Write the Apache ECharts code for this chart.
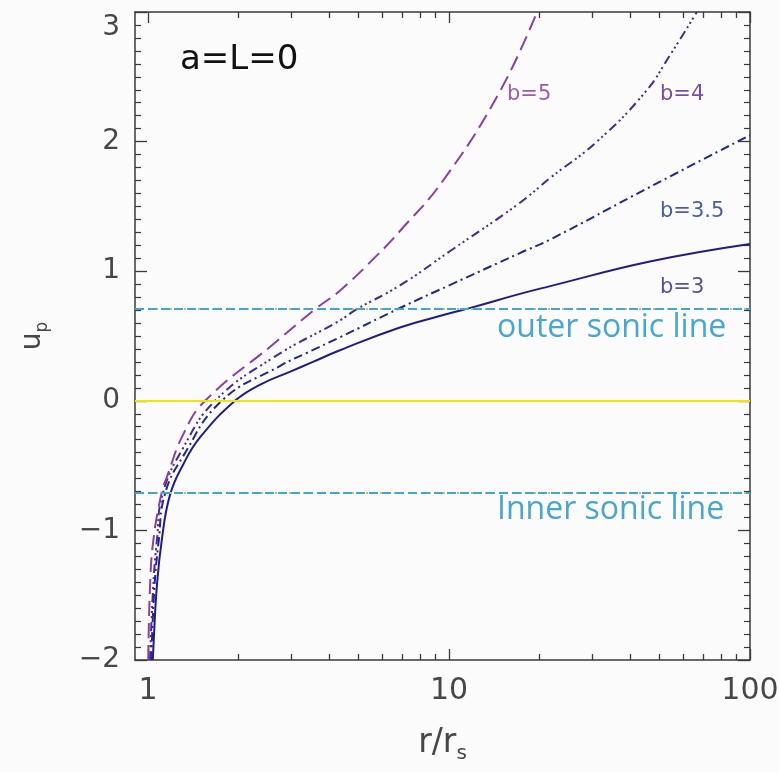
<!DOCTYPE html>
<html><head><meta charset="utf-8">
<script src="https://cdn.jsdelivr.net/npm/echarts@6/dist/echarts.min.js"></script>
<style>html,body{margin:0;padding:0;background:#fbfbfb}#c{width:779px;height:772px}</style>
</head><body><div id="c"></div>
<script>
// ---- data (r/r_s, u_p) ----
const curveB3 = [[1.037,-2.0],[1.047,-1.80],[1.069,-1.44],[1.11,-1.08],[1.183,-0.726],[1.31,-0.489],[1.488,-0.283],[1.945,0],[2.36,0.125],[2.97,0.225],[3.53,0.30],[4.34,0.39],[6.87,0.566],[10.06,0.675],[11.7,0.715],[17.2,0.825],[21.7,0.885],[46.5,1.075],[100,1.21]];
const curveB35 = [[1.025,-2.0],[1.05,-1.44],[1.085,-1.08],[1.139,-0.716],[1.31,-0.425],[1.757,0],[2.75,0.27],[3.37,0.37],[4.34,0.49],[6.87,0.716],[10.06,0.893],[17.2,1.14],[21.7,1.245],[46.5,1.65],[100,2.05]];
const curveB4 = [[1.015,-2.0],[1.04,-1.44],[1.07,-1.08],[1.119,-0.716],[1.31,-0.36],[1.67,0],[2.61,0.334],[4.34,0.62],[4.94,0.707],[6.87,0.89],[10.06,1.154],[17.0,1.519],[21.7,1.72],[31.0,2.0],[44.8,2.38],[54.0,2.66],[66.6,3.0]];
const curveB5 = [[1.002,-2.0],[1.015,-1.44],[1.041,-1.08],[1.11,-0.707],[1.154,-0.59],[1.31,-0.257],[1.547,0],[2.61,0.438],[3.59,0.707],[4.34,0.85],[5.75,1.12],[6.87,1.31],[9.56,1.70],[14.7,2.38],[19.6,3.0]];
const outerSonic = 0.707;
const innerSonic = -0.707;
const zeroLine = 0;
const xMajorTicks = [1, 10, 100];
const xMinorTicks = [2,3,4,5,6,7,8,9,20,30,40,50,60,70,80,90];
const xRange = [0.905, 100];
const yRange = [-2, 3];

const axisColor = '#3a3a3a';
const txtColor = '#474747';
const gridRect = { left: 135, right: 29, top: 12, bottom: 112, containLabel: false, outerBoundsMode: 'none' };

function xAxisDef(gridIndex, pos, major, showLabel, showLine) {
  return {
    type: 'log', logBase: 10, position: pos, gridIndex: gridIndex,
    min: xRange[0], max: xRange[1],
    splitLine: { show: false },
    axisLine: { show: showLine, onZero: false, lineStyle: { color: axisColor, width: 1.5 } },
    axisTick: { show: true, inside: true, length: major ? 11 : 6,
      customValues: major ? xMajorTicks : xMinorTicks,
      lineStyle: { color: axisColor, width: 1.3 } },
    axisLabel: { show: showLabel, customValues: xMajorTicks, margin: 16, fontFamily: 'DejaVu Sans', fontSize: 30, color: txtColor,
      hideOverlap: false, formatter: v => String(v) },
    minorTick: { show: false }
  };
}
function yAxisDef(gridIndex, pos, show, showLabel) {
  return {
    type: 'value', position: pos, gridIndex: gridIndex, min: yRange[0], max: yRange[1], interval: 1,
    show: show,
    splitLine: { show: false },
    axisLine: { show: true, onZero: false, lineStyle: { color: axisColor, width: 1.5 } },
    axisTick: { show: true, inside: true, length: 12, lineStyle: { color: axisColor, width: 1.3 } },
    minorTick: { show: true, splitNumber: 10, length: 6, lineStyle: { color: axisColor, width: 1.2 } },
    axisLabel: { show: showLabel, margin: 15, fontFamily: 'DejaVu Sans', fontSize: 28, color: txtColor,
      formatter: v => v === yRange[1] ? '{top|' + v + '}' : (v < 0 ? '\u2212' + Math.abs(v) : String(v)),
      rich: { top: { fontFamily: 'DejaVu Sans', fontSize: 28, color: txtColor, padding: [32, 0, 0, 0] } } },
    name: showLabel ? '{u|u}{p|p}' : '',
    nameLocation: 'middle', nameGap: 84, nameRotate: 90,
    nameTextStyle: { color: txtColor, rich: {
      u: { fontFamily: 'DejaVu Sans', fontSize: 28, lineHeight: 36, color: txtColor },
      p: { fontFamily: 'DejaVu Sans', fontSize: 17, lineHeight: 17, verticalAlign: 'bottom', color: txtColor }
    } }
  };
}

const curveStyle = { type: 'line', xAxisIndex: 0, yAxisIndex: 0, showSymbol: false, smooth: 0.45, z: 3, clip: true };

const chart = echarts.init(document.getElementById('c'));
chart.setOption({
  backgroundColor: '#fbfbfb',
  animation: false,
  grid: [ Object.assign({}, gridRect), Object.assign({}, gridRect) ],
  xAxis: [
    Object.assign(xAxisDef(0, 'bottom', true, true, true), {
      name: '{r|r/r}{s|s}', nameLocation: 'middle', nameGap: 62,
      nameTextStyle: { rich: {
        r: { fontFamily: 'DejaVu Sans', fontSize: 33, lineHeight: 42, color: txtColor },
        s: { fontFamily: 'DejaVu Sans', fontSize: 20, lineHeight: 20, verticalAlign: 'bottom', color: txtColor }
      } }
    }),
    xAxisDef(0, 'top', true, false, true),
    xAxisDef(1, 'bottom', false, false, false),
    xAxisDef(1, 'top', false, false, false)
  ],
  yAxis: [ yAxisDef(0, 'left', true, true), yAxisDef(0, 'right', true, false), yAxisDef(1, 'left', false, false) ],
  series: [
    { name: 'ref', type: 'line', data: [], xAxisIndex: 0, yAxisIndex: 0, silent: true, z: 1,
      markLine: { symbol: 'none', silent: true, animation: false, label: { show: false },
        data: [
          { yAxis: zeroLine, lineStyle: { color: '#f2e600', width: 2, type: 'solid' } },
          { yAxis: outerSonic, lineStyle: { color: '#c8c060', width: 2, type: [2, 5] } },
          { yAxis: innerSonic, lineStyle: { color: '#c8c060', width: 2, type: [2, 5] } },
          { yAxis: outerSonic, lineStyle: { color: '#3fa7d6', width: 2, type: [9, 4] } },
          { yAxis: innerSonic, lineStyle: { color: '#3fa7d6', width: 2, type: [9, 4] } }
        ] } },
    Object.assign({ name: 'b=3', data: curveB3, lineStyle: { color: '#1f1d8c', width: 2, type: 'solid' } }, curveStyle),
    Object.assign({ name: 'b=3.5', data: curveB35, lineStyle: { color: '#1e2a8a', width: 2, type: [9, 4, 2, 4] } }, curveStyle),
    Object.assign({ name: 'b=4', data: curveB4, lineStyle: { color: '#462a93', width: 2, type: [9, 4, 2, 3, 2, 3, 2, 4] } }, curveStyle),
    Object.assign({ name: 'b=5', data: curveB5, lineStyle: { color: '#8c3ea8', width: 2, type: [15, 7] } }, curveStyle)
  ],
  graphic: [
    { type: 'text', x: 180, y: 60, style: { text: 'a=L=0', fontFamily: 'DejaVu Sans', fontSize: 34, fill: '#111', verticalAlign: 'middle' } },
    { type: 'text', x: 507, y: 95, style: { text: 'b=5', fontFamily: 'DejaVu Sans', fontSize: 21, fill: '#9a5cb4', verticalAlign: 'middle' } },
    { type: 'text', x: 660, y: 95, style: { text: 'b=4', fontFamily: 'DejaVu Sans', fontSize: 21, fill: '#7a4ea6', verticalAlign: 'middle' } },
    { type: 'text', x: 660, y: 212, style: { text: 'b=3.5', fontFamily: 'DejaVu Sans', fontSize: 21, fill: '#4b5ca8', verticalAlign: 'middle' } },
    { type: 'text', x: 660, y: 288, style: { text: 'b=3', fontFamily: 'DejaVu Sans', fontSize: 21, fill: '#5b4e9e', verticalAlign: 'middle' } },
    { type: 'text', x: 497, y: 328, style: { text: 'outer sonic line', fontFamily: 'Open Sans', fontSize: 32, fill: '#49a6d2', verticalAlign: 'middle' } },
    { type: 'text', x: 497, y: 510, style: { text: 'Inner sonic line', fontFamily: 'Open Sans', fontSize: 32, fill: '#49a6d2', verticalAlign: 'middle' } }
  ]
});
</script></body></html>
